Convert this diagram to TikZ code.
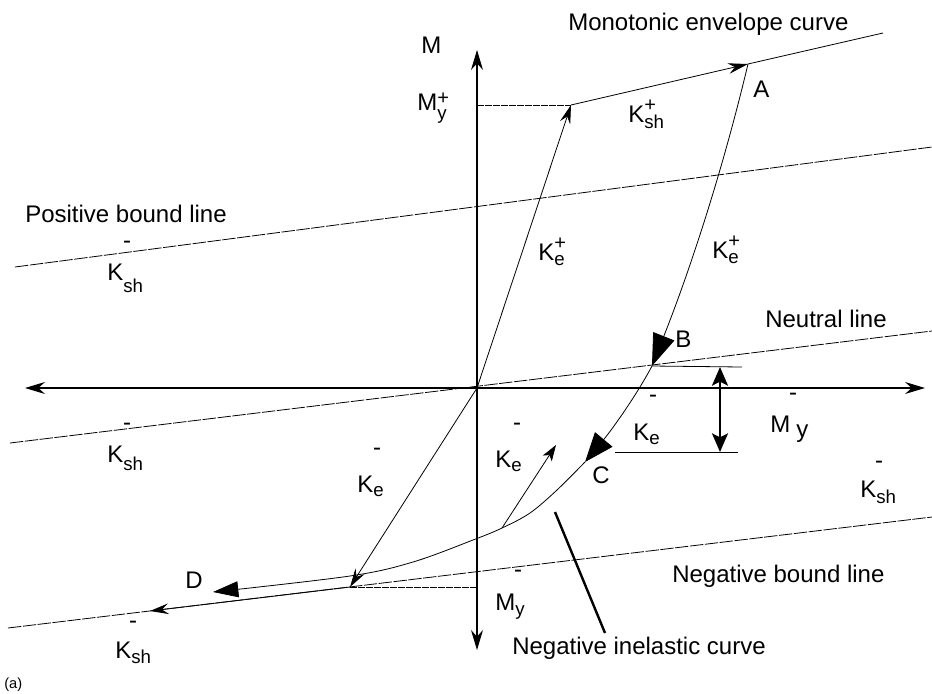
\documentclass[tikz,border=0pt]{standalone}
\usepackage{fontspec}
\setmainfont{Liberation Sans}
\usetikzlibrary{arrows.meta}
\newcommand\sbx[2]{\raisebox{-#1}{\fontsize{14}{14}\selectfont #2}}
\newcommand\spsb[4]{\rlap{\raisebox{#3}{\fontsize{15}{15}\selectfont #1}}\raisebox{-#4}{\fontsize{14}{14}\selectfont #2}}
\begin{document}
\begin{tikzpicture}[x=0.75pt,y=-0.75pt,
  lbl/.style={inner sep=0pt,anchor=base west,font=\fontsize{18}{20}\selectfont},
  barlbl/.style={inner sep=0pt,font=\fontsize{18}{20}\selectfont},
  thinline/.style={line width=0.6pt},
  boundline/.style={line width=0.6pt,dash pattern=on 10pt off 1.2pt},
  axisarrow/.style={line width=0.8pt,{Stealth[length=15pt,width=9pt,inset=5pt]}-{Stealth[length=15pt,width=9pt,inset=5pt]}},
  tipsmall/.style={-{Stealth[length=14pt,width=8pt,inset=5pt]}}]
\useasboundingbox (0,0) rectangle (932,693);
% key points
\coordinate (O) at (477,388);
\coordinate (Ytop) at (477,50);
\coordinate (Ybot) at (477,650);
\coordinate (Xl) at (25,388);
\coordinate (Xr) at (925,388);
\coordinate (Y1) at (571,105);
\coordinate (Y1ax) at (477,105);
\coordinate (A) at (748,64);
\coordinate (Eend) at (883,33);
\coordinate (B) at (652,366);
\coordinate (C) at (585,462);
\coordinate (Pb1) at (15,267);
\coordinate (Pb2) at (932,147);
\coordinate (Nl1) at (10,443);
\coordinate (Nl2) at (932,331);
\coordinate (Nb1) at (8,628);
\coordinate (Nb2) at (932,517);
\coordinate (Dp) at (350,587);
\coordinate (Dpax) at (477,587);
\coordinate (Nbarr) at (150,611);
\coordinate (Dtip) at (213,592);
\coordinate (Ke1) at (502,528);
\coordinate (Ke2) at (556,445);
\coordinate (Bh) at (742,367);
\coordinate (Ch1) at (615,452);
\coordinate (Ch2) at (738,452);
\coordinate (Dim1) at (720,367);
\coordinate (Dim2) at (720,452);
\coordinate (L1) at (555,512);
\coordinate (L2) at (605,633);
% bound and neutral lines
\draw[boundline] (Pb1) -- (Pb2);
\draw[boundline] (Nl1) -- (Nl2);
\draw[boundline] (Nb1) -- (Nb2);
\draw[thinline,tipsmall] (Dp) -- (Nbarr);
% axes
\draw[axisarrow] (Xl) -- (Xr);
\draw[axisarrow] (Ytop) -- (Ybot);
% envelope
\draw[thinline,dash pattern=on 5pt off 1pt] (Y1ax) -- (Y1);
\draw[thinline,-{Stealth[length=15pt,width=8pt,inset=5pt]}] (Y1) -- (A);
\draw[thinline] (A) -- (Eend);
\draw[thinline,tipsmall] (O) -- (Y1);
% unloading A -> B
\draw[thinline,-{Triangle[length=24pt,width=17pt]}] (A) .. controls (724,165) and (692,265) .. (B);
% B -> C
\draw[thinline,-{Triangle[length=22pt,width=17pt]}] (B) .. controls (635,398) and (610,432) .. (C);
% C -> D
\draw[thinline,-{Triangle[length=19pt,width=12pt]}] plot[smooth,tension=0.55] coordinates {(585,462) (557,490) (530,513) (502,528) (473,540) (413,562) (350,576) (213,592)};
% reloading arrow
\draw[thinline,-{Stealth[length=12pt,width=8pt,inset=3pt]}] (Ke1) -- (Ke2);
% O down to negative bound
\draw[thinline,tipsmall] (O) -- (Dp);
\draw[thinline,dash pattern=on 5pt off 1pt] (Dp) -- (Dpax);
% dimension
\draw[thinline] (B) -- (Bh);
\draw[thinline] (Ch1) -- (Ch2);
\draw[line width=1.6pt,{Stealth[length=14pt,width=12pt,inset=3pt]}-{Stealth[length=14pt,width=12pt,inset=3pt]}] (Dim1) -- (Dim2);
% leader
\draw[line width=1.8pt] (L1) -- (L2);
% labels
\node[lbl] (tM) at (421,53) {M};
\node[lbl] (tMy) at (417,110) {M\spsb{+}{y}{4pt}{7pt}};
\node[lbl] (tKsh) at (628,122) {K\spsb{+}{sh}{8pt}{4.5pt}};
\node[lbl] (tA) at (753,97) {A};
\node[lbl] (tMono) at (568,30) {Monotonic envelope curve};
\node[lbl] (tKe1) at (538,260) {K\spsb{+}{e}{8pt}{4pt}};
\node[lbl] (tKe2) at (712,258) {K\spsb{+}{e}{8pt}{4pt}};
\node[lbl] (tPos) at (25,222) {Positive bound line};
\node[barlbl] (bK1) at (127,245) {-};
\node[lbl] (tK1) at (107,280) {K\sbx{9pt}{sh}};
\node[lbl] (tNeu) at (765,327) {Neutral line};
\node[lbl] (tB) at (675,347) {B};
\node[barlbl] (bK2) at (127,427) {-};
\node[lbl] (tK2) at (107,462) {K\sbx{6pt}{sh}};
\node[barlbl] (bK3) at (653,399) {-};
\node[lbl] (tK3) at (633,440) {K\sbx{3pt}{e}};
\node[barlbl] (bM1) at (793,397) {-};
\node[lbl] (tM1) at (770,432) {M};
\node[lbl] (tM1y) at (796,437) {y};
\node[barlbl] (bK4) at (517,427) {-};
\node[lbl] (tK4) at (495,467) {K\sbx{3pt}{e}};
\node[lbl] (tC) at (592,483) {C};
\node[barlbl] (bK5) at (879,465) {-};
\node[lbl] (tK5) at (860,497) {K\sbx{5pt}{sh}};
\node[barlbl] (bK6) at (377,452) {-};
\node[lbl] (tK6) at (357,492) {K\sbx{3pt}{e}};
\node[lbl] (tD) at (185,588) {D};
\node[barlbl] (bM2) at (518,574) {-};
\node[lbl] (tM2) at (495,610) {M\sbx{4pt}{y}};
\node[lbl] (tNegb) at (672,582) {Negative bound line};
\node[lbl] (tNegi) at (512,654) {Negative inelastic curve};
\node[barlbl] (bK7) at (133,625) {-};
\node[lbl] (tK7) at (115,658) {K\sbx{4pt}{sh}};
\node[lbl,font=\fontsize{11}{12}\selectfont] (ta) at (4,688) {(a)};
\end{tikzpicture}
\end{document}
